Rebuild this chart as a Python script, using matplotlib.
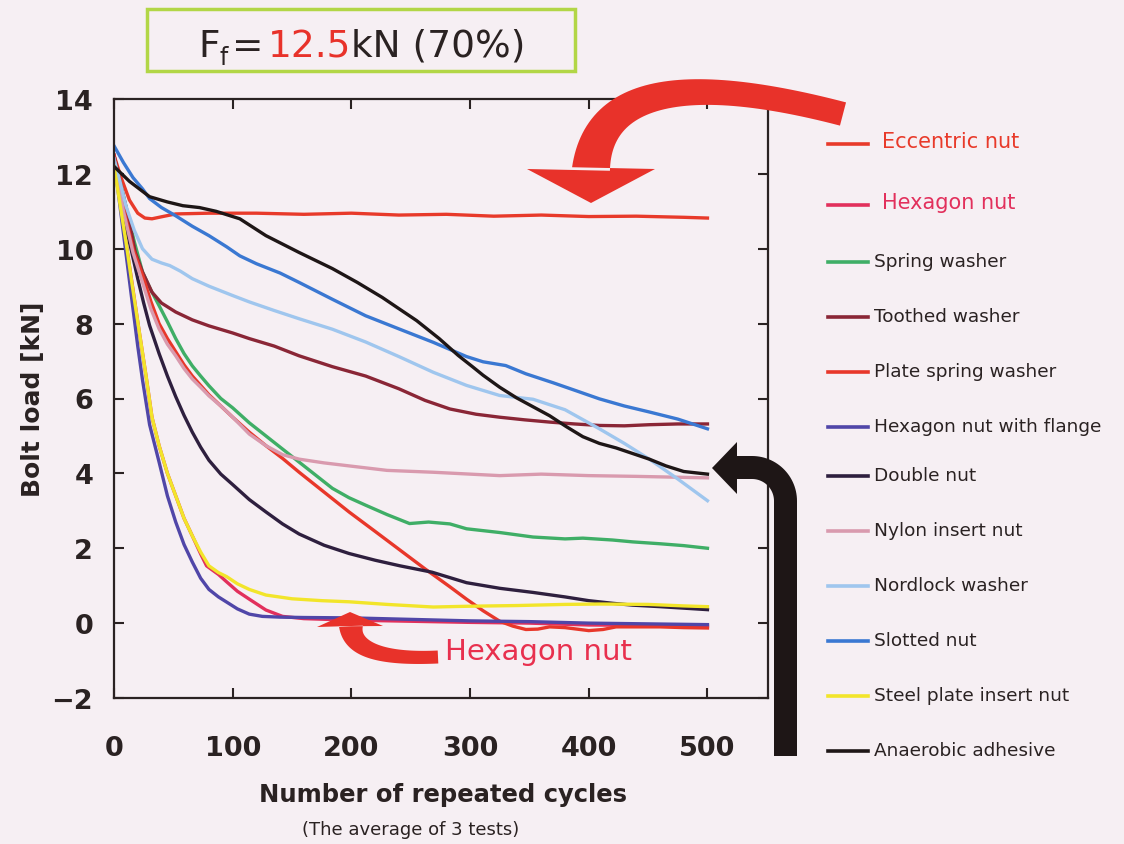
import numpy as np
import matplotlib
matplotlib.use("Agg")
import matplotlib.pyplot as plt
from matplotlib.lines import Line2D
from matplotlib.patches import Rectangle, Polygon

plt.rcParams['font.family'] = ['DejaVu Sans']

# ---------- datos ----------
etiquetas = ["Eccentric nut", "Hexagon nut", "Spring washer", "Toothed washer",
             "Plate spring washer", "Hexagon nut with flange", "Double nut",
             "Nylon insert nut", "Nordlock washer", "Slotted nut",
             "Steel plate insert nut", "Anaerobic adhesive"]
colores = ["#e83a2a", "#e2305c", "#3fae66", "#8a2636", "#e8372a", "#5046a8",
           "#2e1f3e", "#d99aae", "#9fc6ee", "#3a78d2", "#f2e52a", "#1e1616"]

x_excentrica = [0, 6, 13, 20, 26, 32, 41, 52, 80, 120, 160, 200, 240, 280, 320, 360, 400, 440, 480, 500]
y_excentrica = [12.5, 11.9, 11.3, 10.95, 10.82, 10.8, 10.86, 10.93, 10.95, 10.95, 10.92, 10.95,
                10.9, 10.92, 10.87, 10.9, 10.86, 10.87, 10.84, 10.82]

x_hexagonal = [0, 10, 20, 27, 32, 38, 45, 52, 59, 66, 73, 78, 88, 95, 104, 114, 128, 142, 160,
               200, 250, 300, 350, 400, 450, 500]
y_hexagonal = [12.4, 10.2, 8.05, 6.6, 5.5, 4.74, 4.0, 3.4, 2.8, 2.33, 1.85, 1.53, 1.3, 1.1,
               0.85, 0.64, 0.35, 0.18, 0.12, 0.08, 0.05, 0.02, 0.0, -0.05, -0.06, -0.08]

x_resorte = [0, 5, 10, 17, 24, 31, 38, 45, 52, 59, 66, 73, 80, 90, 100, 114, 128, 142, 156, 170,
             184, 198, 212, 230, 249, 265, 283, 297, 325, 353, 380, 395, 420, 437, 460, 480, 500]
y_resorte = [12.4, 11.8, 11.15, 10.2, 9.38, 8.9, 8.48, 8.05, 7.6, 7.2, 6.87, 6.6, 6.34, 6.0,
             5.75, 5.35, 5.0, 4.65, 4.3, 3.95, 3.6, 3.35, 3.15, 2.9, 2.66, 2.7, 2.65, 2.52,
             2.42, 2.3, 2.25, 2.27, 2.22, 2.17, 2.12, 2.07, 2.0]

x_dentada = [0, 5, 13, 18, 24, 32, 40, 52, 66, 80, 100, 114, 135, 156, 184, 212, 240, 262, 283,
             305, 325, 346, 367, 388, 409, 430, 451, 475, 500]
y_dentada = [12.5, 11.8, 10.7, 9.9, 9.38, 8.84, 8.55, 8.31, 8.1, 7.94, 7.75, 7.6, 7.4, 7.14,
             6.85, 6.6, 6.26, 5.95, 5.72, 5.58, 5.5, 5.43, 5.37, 5.32, 5.28, 5.27, 5.3, 5.32, 5.32]

x_platillo = [0, 8, 16, 24, 31, 38, 45, 52, 59, 66, 73, 80, 90, 100, 114, 128, 142, 156, 177,
              198, 220, 241, 262, 283, 297, 311, 325, 336, 347, 357, 367, 380, 400, 412, 423,
              440, 460, 480, 500]
y_platillo = [12.5, 11.1, 10.0, 9.3, 8.6, 8.0, 7.6, 7.25, 6.9, 6.6, 6.35, 6.1, 5.8, 5.5, 5.1,
              4.74, 4.4, 4.03, 3.5, 2.97, 2.45, 1.95, 1.45, 0.97, 0.64, 0.33, 0.05, -0.08,
              -0.17, -0.16, -0.1, -0.12, -0.2, -0.17, -0.1, -0.1, -0.1, -0.12, -0.13]

x_brida = [0, 10, 20, 24, 30, 38, 45, 52, 59, 66, 73, 80, 88, 95, 104, 114, 125, 140, 160, 200,
           250, 300, 350, 400, 450, 500]
y_brida = [12.4, 9.9, 7.4, 6.5, 5.3, 4.3, 3.4, 2.7, 2.1, 1.63, 1.2, 0.9, 0.7, 0.56, 0.38, 0.24,
           0.18, 0.16, 0.15, 0.14, 0.1, 0.06, 0.04, 0.0, -0.02, -0.04]

x_doble = [0, 5, 10, 15, 20, 25, 30, 38, 45, 52, 59, 66, 73, 80, 90, 100, 114, 128, 142, 156,
           177, 198, 220, 241, 268, 297, 325, 353, 380, 400, 420, 437, 460, 480, 500]
y_doble = [12.3, 11.4, 10.6, 9.9, 9.2, 8.55, 7.95, 7.2, 6.6, 6.05, 5.55, 5.1, 4.7, 4.35, 3.98,
           3.7, 3.3, 2.97, 2.65, 2.38, 2.08, 1.86, 1.68, 1.53, 1.36, 1.08, 0.93, 0.82, 0.7,
           0.6, 0.53, 0.48, 0.44, 0.4, 0.36]

x_nylon = [0, 8, 16, 24, 31, 38, 45, 52, 59, 66, 73, 80, 90, 100, 114, 128, 142, 156, 177, 198,
           230, 269, 300, 325, 360, 400, 440, 470, 500]
y_nylon = [12.4, 11.0, 9.9, 9.1, 8.4, 7.86, 7.45, 7.14, 6.8, 6.52, 6.3, 6.07, 5.8, 5.5, 5.05,
           4.74, 4.5, 4.38, 4.28, 4.2, 4.08, 4.03, 3.98, 3.94, 3.98, 3.94, 3.92, 3.9, 3.88]

x_nordlock = [0, 5, 10, 17, 24, 32, 40, 47, 56, 66, 80, 100, 114, 135, 156, 184, 212, 240, 269,
              297, 325, 353, 380, 409, 430, 451, 475, 500]
y_nordlock = [12.4, 11.8, 11.15, 10.5, 10.0, 9.72, 9.62, 9.55, 9.4, 9.2, 9.0, 8.75, 8.58, 8.35,
              8.13, 7.85, 7.51, 7.12, 6.7, 6.35, 6.08, 5.98, 5.7, 5.19, 4.8, 4.38, 3.85, 3.27]

x_ranurada = [0, 8, 16, 24, 30, 40, 52, 66, 80, 95, 106, 120, 140, 156, 184, 212, 240, 269, 297,
              311, 330, 347, 370, 390, 409, 430, 451, 475, 500]
y_ranurada = [12.75, 12.3, 11.9, 11.6, 11.34, 11.1, 10.88, 10.6, 10.35, 10.05, 9.81, 9.6, 9.35,
              9.1, 8.65, 8.21, 7.86, 7.5, 7.12, 6.98, 6.88, 6.66, 6.42, 6.2, 5.99, 5.8, 5.64,
              5.45, 5.19]

x_acero = [0, 5, 10, 15, 20, 27, 32, 38, 45, 52, 59, 66, 73, 80, 88, 95, 104, 114, 128, 150,
           175, 198, 230, 269, 297, 340, 380, 409, 450, 480, 500]
y_acero = [12.2, 11.2, 10.2, 9.1, 8.05, 6.6, 5.5, 4.74, 4.0, 3.4, 2.8, 2.33, 1.9, 1.53, 1.35,
           1.24, 1.05, 0.9, 0.75, 0.65, 0.6, 0.57, 0.5, 0.43, 0.45, 0.47, 0.5, 0.51, 0.5,
           0.46, 0.44]

x_anaerobico = [0, 13, 30, 45, 58, 72, 86, 106, 128, 156, 184, 205, 226, 240, 255, 274, 290,
                302, 311, 325, 339, 353, 367, 381, 395, 409, 423, 437, 451, 465, 480, 500]
y_anaerobico = [12.2, 11.8, 11.39, 11.25, 11.15, 11.1, 11.0, 10.8, 10.35, 9.9, 9.47, 9.1,
                8.7, 8.4, 8.08, 7.6, 7.15, 6.85, 6.62, 6.3, 6.02, 5.78, 5.54, 5.25, 4.98, 4.8,
                4.68, 4.53, 4.38, 4.2, 4.05, 3.98]

series_x = [x_excentrica, x_hexagonal, x_resorte, x_dentada, x_platillo, x_brida, x_doble,
            x_nylon, x_nordlock, x_ranurada, x_acero, x_anaerobico]
series_y = [y_excentrica, y_hexagonal, y_resorte, y_dentada, y_platillo, y_brida, y_doble,
            y_nylon, y_nordlock, y_ranurada, y_acero, y_anaerobico]

ticks_x = [0, 100, 200, 300, 400, 500]
ticks_y = [-2, 0, 2, 4, 6, 8, 10, 12, 14]

# ---------- figura ----------
W, H = 1124, 845
fondo = "#f6eff3"
oscuro = "#2a2222"


def px(x, y):
    # pixel de la imagen -> fraccion de la figura
    return (x / W, 1 - y / H)


fig = plt.figure(figsize=(W / 100, H / 100), dpi=100, facecolor=fondo)
ax = fig.add_axes([114 / W, 1 - 699 / H, 654 / W, 599 / H], facecolor=fondo)

for xs, ys, c in zip(series_x, series_y, colores):
    ax.plot(xs, ys, color=c, lw=2.4, solid_joinstyle='round')

ax.set_xlim(0, 551)
ax.set_ylim(-2, 14)
ax.set_xticks(ticks_x)
ax.set_yticks(ticks_y)
ax.tick_params(axis='both', direction='in', length=7, width=1.5, color=oscuro,
               top=True, right=True, labelsize=19.5, labelcolor=oscuro)
ax.tick_params(axis='x', pad=27)
ax.tick_params(axis='y', pad=15)
for lbl in ax.get_xticklabels() + ax.get_yticklabels():
    lbl.set_fontweight('bold')
for s in ax.spines.values():
    s.set_linewidth(1.6)
    s.set_color(oscuro)

ax.set_ylabel("Bolt load [kN]", fontsize=18, fontweight='bold', color=oscuro)
ax.yaxis.set_label_coords(-(114 - 45) / 654, 0.5)
fig.text(*px(443, 795), "Number of repeated cycles", fontsize=17.5, fontweight='bold',
         color=oscuro, ha='center', va='center')
fig.text(*px(411, 830), "(The average of 3 tests)", fontsize=13, color=oscuro,
         ha='center', va='center')

# ---------- leyenda a la derecha ----------
leyenda_y = [145, 206, 263, 318, 373, 428, 477, 532, 587, 642, 697, 752]
for i, (lab, c, yy) in enumerate(zip(etiquetas, colores, leyenda_y)):
    x0, y0 = px(828, yy)
    x1, _ = px(868, yy)
    fig.add_artist(Line2D([x0, x1], [y0, y0], color=c, lw=2.6, transform=fig.transFigure))
    if i < 2:
        fig.text(*px(882, yy - 3), lab, fontsize=15, color=c, ha='left', va='center')
    else:
        fig.text(*px(874, yy - 1), lab, fontsize=13.3, color=oscuro, ha='left', va='center')

# ---------- titulo en recuadro ----------
x_a, y_a = px(147, 72)
x_b, y_b = px(575, 10)
fig.add_artist(Rectangle((x_a, y_a), x_b - x_a, y_b - y_a, transform=fig.transFigure,
                         facecolor='none', edgecolor='#b2d646', lw=2.5))
renderer = fig.canvas.get_renderer()
partes = [("F", oscuro, 27, 0), ("f", oscuro, 17, 8), ("=", oscuro, 27, 0),
          ("12.5", "#e8322a", 27, 0), ("kN (70%)", oscuro, 27, 0)]
xc = 198
for s, c, fs, dy in partes:
    t = fig.text(*px(xc, 57 + dy), s, fontsize=fs, color=c, ha='left', va='baseline')
    bb = t.get_window_extent(renderer)
    xc = bb.x1 + (4 if s in ("f", "=") else 0)

# ---------- flechas (dibujadas como poligonos en pixeles de la imagen) ----------
rojo = "#e8322a"


def flecha_banda(p0, p1, p2, w0, w1, base_izq, base_der, punta, color):
    # banda a lo largo de una curva de Bezier cuadratica y punta triangular
    t = np.linspace(0, 1, 60)[:, None]
    p0, p1, p2 = map(np.array, (p0, p1, p2))
    c = (1 - t) ** 2 * p0 + 2 * t * (1 - t) * p1 + t ** 2 * p2
    d = 2 * (1 - t) * (p1 - p0) + 2 * t * (p2 - p1)
    n = np.column_stack([-d[:, 1], d[:, 0]]) / np.hypot(d[:, 0], d[:, 1])[:, None]
    w = w0 + (w1 - w0) * t ** 2
    lado_a = c + n * w
    lado_b = c - n * w
    contorno = list(lado_a) + [base_izq, punta, base_der] + list(lado_b[::-1])
    fig.add_artist(Polygon([px(*p) for p in contorno], closed=True,
                           transform=fig.transFigure, facecolor=color, edgecolor='none'))


# flecha grande arriba
flecha_banda((843, 115), (602, 52), (591, 170), 12, 19, (655, 170), (527, 170), (591, 204), rojo)

# flecha pequena (Hexagon nut)
flecha_banda((438, 658), (352, 662), (351, 627), 6.5, 12, (317, 628), (383, 627), (350, 613), rojo)
fig.text(*px(445, 652), "Hexagon nut", fontsize=21, color="#e8304e", ha='left', va='center')

# flecha negra: barra vertical + codo + punta
negro = "#1e1616"
cx, cy, r_ext, r_int = 752, 502, 45, 22
ang = np.linspace(0, np.pi / 2, 30)
contorno = [(797, 757), (797, cy)]
contorno += [(cx + r_ext * np.cos(a), cy - r_ext * np.sin(a)) for a in ang]
contorno += [(737, cy - r_ext), (737, 443), (712, 469), (737, 495), (737, cy - r_int)]
contorno += [(cx + r_int * np.cos(a), cy - r_int * np.sin(a)) for a in ang[::-1]]
contorno += [(774, 757)]
fig.add_artist(Polygon([px(*p) for p in contorno], closed=True, transform=fig.transFigure,
                       facecolor=negro, edgecolor='none'))

fig.savefig("out.png", dpi=100, facecolor=fondo)
